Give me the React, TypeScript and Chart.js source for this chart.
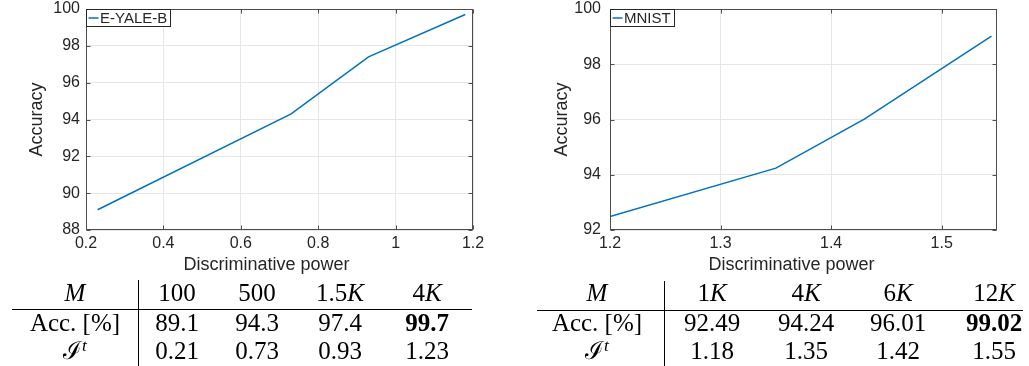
import React, { useEffect, useRef } from "react";
import { Chart, registerables } from "chart.js";

Chart.register(...registerables);

// ---------------- data ----------------
const yaleLabel = "E-YALE-B";
const yalePower = [0.23, 0.73, 0.93, 1.18];
const yaleAcc = [89.1, 94.3, 97.4, 99.7];
const yaleXTicks = [0.2, 0.4, 0.6, 0.8, 1, 1.2];
const yaleYTicks = [88, 90, 92, 94, 96, 98, 100];

const mnistLabel = "MNIST";
const mnistPower = [1.2, 1.35, 1.43, 1.545];
const mnistAcc = [92.49, 94.24, 96.01, 99.02];
const mnistXTicks = [1.2, 1.3, 1.4, 1.5];
const mnistYTicks = [92, 94, 96, 98, 100];

const yaleM = ["100", "500", "1.5K", "4K"];
const yaleAccText = ["89.1", "94.3", "97.4", "99.7"];
const yaleIt = ["0.21", "0.73", "0.93", "1.23"];

const mnistM = ["1K", "4K", "6K", "12K"];
const mnistAccText = ["92.49", "94.24", "96.01", "99.02"];
const mnistIt = ["1.18", "1.35", "1.42", "1.55"];

// ---------------- styles ----------------
const SANS = "'Liberation Sans', Arial, Helvetica, sans-serif";
const SERIF = "'Liberation Serif', 'Times New Roman', 'DejaVu Serif', serif";
const TEXT = "#262626";
const BLUE = "#0072BD";

type ChartProps = {
  xs: number[];
  ys: number[];
  label: string;
  xMin: number;
  xMax: number;
  xTicks: number[];
  yMin: number;
  yMax: number;
  yTicks: number[];
  left: number;
  width: number;
  height: number;
  axisW: number;
  padRight: number;
  yTickPad: number;
  yTitlePad: number;
  xTitleShift: number;
};

function MatlabLine(p: ChartProps) {
  const ref = useRef<HTMLCanvasElement>(null);
  useEffect(() => {
    const canvas = ref.current!;
    const frame = {
      id: "matlabFrame",
      afterDraw(chart: any) {
        const { ctx, chartArea: a, scales } = chart;
        const L = Math.round(a.left) + 0.5;
        const R = Math.round(a.right) - 0.5;
        const T = Math.round(a.top) + 0.5;
        const B = Math.round(a.bottom) - 0.5;
        ctx.save();
        ctx.strokeStyle = "#4d4d4d";
        ctx.lineWidth = 1;
        ctx.beginPath();
        p.xTicks.forEach((v) => {
          const x = Math.round(scales.x.getPixelForValue(v)) + 0.5;
          ctx.moveTo(x, B);
          ctx.lineTo(x, B - 4);
          ctx.moveTo(x, T);
          ctx.lineTo(x, T + 4);
        });
        p.yTicks.forEach((v) => {
          const y = Math.round(scales.y.getPixelForValue(v)) + 0.5;
          ctx.moveTo(L, y);
          ctx.lineTo(L + 4, y);
          ctx.moveTo(R, y);
          ctx.lineTo(R - 4, y);
        });
        ctx.stroke();
        ctx.strokeStyle = "#4d4d4d";
        ctx.strokeRect(L, T, R - L, B - T);
        // legend
        ctx.font = `15px ${SANS}`;
        const tw = ctx.measureText(p.label).width;
        const lw = Math.round(14 + tw + 3);
        ctx.fillStyle = "#ffffff";
        ctx.fillRect(L, T, lw, 17);
        ctx.strokeStyle = TEXT;
        ctx.strokeRect(L, T, lw, 17);
        ctx.strokeStyle = BLUE;
        ctx.lineWidth = 1.5;
        ctx.beginPath();
        ctx.moveTo(L + 2, T + 8.5);
        ctx.lineTo(L + 12, T + 8.5);
        ctx.stroke();
        ctx.fillStyle = TEXT;
        ctx.textAlign = "left";
        ctx.textBaseline = "middle";
        ctx.fillText(p.label, L + 13.5, T + 9);
        // x title
        ctx.font = `18px ${SANS}`;
        ctx.textAlign = "center";
        ctx.textBaseline = "middle";
        ctx.fillText("Discriminative power", (a.left + a.right) / 2 + p.xTitleShift, 265.5);
        ctx.restore();
      },
    };
    const chart = new Chart(canvas, {
      type: "scatter",
      data: {
        datasets: [
          {
            label: p.label,
            data: p.xs.map((x, i) => ({ x, y: p.ys[i] })),
            showLine: true,
            borderColor: BLUE,
            backgroundColor: BLUE,
            borderWidth: 1.5,
            pointRadius: 0,
            pointHoverRadius: 0,
            fill: false,
            tension: 0,
          },
        ],
      },
      options: {
        responsive: false,
        maintainAspectRatio: false,
        animation: false,
        devicePixelRatio: 1,
        events: [],
        layout: { padding: { left: 0, top: 9, right: p.padRight, bottom: 0 } },
        plugins: { legend: { display: false }, tooltip: { enabled: false } },
        scales: {
          x: {
            type: "linear",
            min: p.xMin,
            max: p.xMax,
            afterBuildTicks: (s: any) => {
              s.ticks = p.xTicks.map((v) => ({ value: v }));
            },
            afterFit: (s: any) => {
              s.height = 50;
              s.paddingLeft = 0;
              s.paddingRight = 0;
            },
            grid: { color: "#e6e6e6", drawTicks: false, tickLength: 0 },
            border: { display: false },
            ticks: {
              padding: 4,
              color: TEXT,
              font: { family: SANS, size: 16 },
              maxRotation: 0,
              autoSkip: false,
              callback: (v: any) => String(v),
            },
          },
          y: {
            type: "linear",
            min: p.yMin,
            max: p.yMax,
            afterBuildTicks: (s: any) => {
              s.ticks = p.yTicks.map((v) => ({ value: v }));
            },
            afterFit: (s: any) => {
              s.width = p.axisW;
              s.paddingTop = 0;
              s.paddingBottom = 0;
            },
            grid: { color: "#e6e6e6", drawTicks: false, tickLength: 0 },
            border: { display: false },
            ticks: {
              padding: p.yTickPad,
              color: TEXT,
              font: { family: SANS, size: 16 },
              autoSkip: false,
              callback: (v: any) => String(v),
            },
            title: {
              display: true,
              text: "Accuracy",
              color: TEXT,
              font: { family: SANS, size: 18 },
              padding: { top: p.yTitlePad, bottom: 0 },
            },
          },
        },
      },
      plugins: [frame],
    } as any);
    return () => chart.destroy();
  }, []);
  return (
    <canvas
      ref={ref}
      width={p.width}
      height={p.height}
      style={{ position: "absolute", left: p.left, top: 0, width: p.width, height: p.height, display: "block" }}
    />
  );
}

function MText({ s }: { s: string }) {
  if (s.endsWith("K")) {
    return (
      <>
        {s.slice(0, -1)}
        <i>K</i>
      </>
    );
  }
  return <>{s}</>;
}

function Cell({ cx, cy, children, bold }: { cx: number; cy: number; children: any; bold?: boolean }) {
  return (
    <div
      style={{
        position: "absolute",
        left: cx - 70,
        width: 140,
        top: cy - 14,
        height: 28,
        lineHeight: "28px",
        textAlign: "center",
        fontFamily: SERIF,
        fontSize: 25,
        color: "#000",
        fontWeight: bold ? "bold" : "normal",
        whiteSpace: "nowrap",
      }}
    >
      {children}
    </div>
  );
}

type TableProps = {
  headCx: number;
  colCx: number[];
  mVals: string[];
  accVals: string[];
  itVals: string[];
  hLine: [number, number, number];
  vLine: [number, number];
};

const ROW_Y = [293, 322.5, 350.5];

function ResultTable(t: TableProps) {
  const best = t.accVals.reduce((bi, v, i, arr) => (parseFloat(v) > parseFloat(arr[bi]) ? i : bi), 0);
  return (
    <>
      <div style={{ position: "absolute", left: t.hLine[0], top: t.hLine[2], width: t.hLine[1] - t.hLine[0], height: 1, background: "#000" }} />
      <div style={{ position: "absolute", left: t.vLine[0], top: t.vLine[1], width: 1, height: 366 - t.vLine[1], background: "#000" }} />
      <Cell cx={t.headCx} cy={ROW_Y[0]}>
        <i>M</i>
      </Cell>
      <Cell cx={t.headCx} cy={ROW_Y[1]}>
        Acc. [%]
      </Cell>
      <Cell cx={t.headCx} cy={ROW_Y[2]}>
        <span>ℐ</span>
        <span style={{ position: "relative", top: "-0.45em", fontSize: "0.7em", fontStyle: "italic" }}>t</span>
      </Cell>
      {t.mVals.map((m, i) => (
        <Cell key={"m" + i} cx={t.colCx[i]} cy={ROW_Y[0]}>
          <MText s={m} />
        </Cell>
      ))}
      {t.accVals.map((a, i) => (
        <Cell key={"a" + i} cx={t.colCx[i]} cy={ROW_Y[1]} bold={i === best}>
          {a}
        </Cell>
      ))}
      {t.itVals.map((v, i) => (
        <Cell key={"t" + i} cx={t.colCx[i]} cy={ROW_Y[2]}>
          {v}
        </Cell>
      ))}
    </>
  );
}

export default function App() {
  return (
    <div
      style={{
        position: "absolute",
        left: 0,
        top: 0,
        width: 1029,
        height: 366,
        background: "#fff",
        overflow: "hidden",
      }}
    >
      <MatlabLine
        xs={yalePower}
        ys={yaleAcc}
        label={yaleLabel}
        xMin={0.2}
        xMax={1.2}
        xTicks={yaleXTicks}
        yMin={88}
        yMax={100}
        yTicks={yaleYTicks}
        left={0}
        width={515}
        height={280}
        axisW={86}
        padRight={42}
        yTickPad={6}
        yTitlePad={26}
        xTitleShift={-13}
      />
      <MatlabLine
        xs={mnistPower}
        ys={mnistAcc}
        label={mnistLabel}
        xMin={1.2}
        xMax={1.55}
        xTicks={mnistXTicks}
        yMin={92}
        yMax={100}
        yTicks={mnistYTicks}
        left={520}
        width={509}
        height={280}
        axisW={90}
        padRight={32}
        yTickPad={9}
        yTitlePad={31}
        xTitleShift={-12}
      />
      <ResultTable
        headCx={75}
        colCx={[177, 257, 340, 427]}
        mVals={yaleM}
        accVals={yaleAccText}
        itVals={yaleIt}
        hLine={[12, 472, 309]}
        vLine={[138, 280]}
      />
      <ResultTable
        headCx={597}
        colCx={[712, 806, 898, 994]}
        mVals={mnistM}
        accVals={mnistAccText}
        itVals={mnistIt}
        hLine={[537, 1023, 310]}
        vLine={[664, 281]}
      />
    </div>
  );
}
